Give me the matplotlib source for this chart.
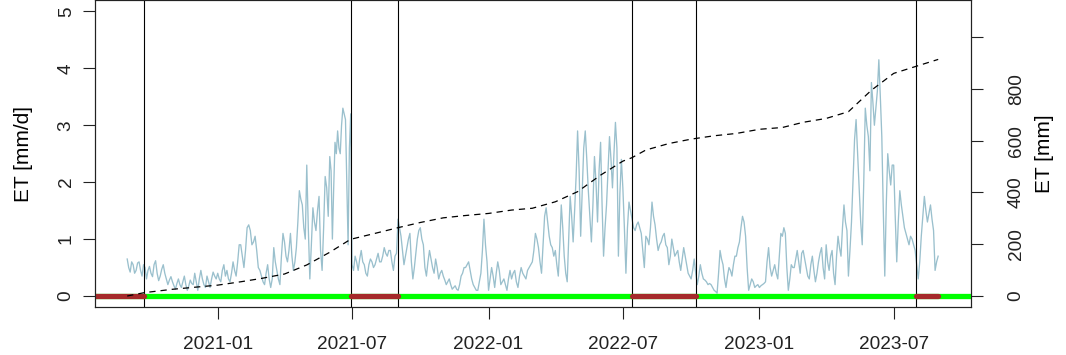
import datetime as dt

import matplotlib
matplotlib.use("Agg")
import matplotlib.pyplot as plt
import matplotlib.dates as mdates

plt.rcParams["font.family"] = ["Liberation Sans", "DejaVu Sans"]

# daily ET [mm/d] (values spread over each month)
et_2020 = [
    [0.65, 0.5, 0.42, 0.6, 0.55, 0.4, 0.45, 0.58, 0.6, 0.45, 0.35, 0.55, 0.5, 0.3, 0.45],    # Sep
    [0.52, 0.4, 0.34, 0.55, 0.62, 0.4, 0.27, 0.35, 0.47, 0.55, 0.4, 0.3, 0.2, 0.28, 0.34],   # Oct
    [0.25, 0.18, 0.12, 0.22, 0.3, 0.2, 0.15, 0.25, 0.35, 0.2, 0.1, 0.18, 0.28, 0.22, 0.2],   # Nov
    [0.4, 0.25, 0.1, 0.3, 0.45, 0.3, 0.2, 0.15, 0.35, 0.25, 0.15, 0.3, 0.42, 0.35, 0.3],     # Dec
]
et_2021 = [
    [0.4, 0.3, 0.25, 0.45, 0.55, 0.35, 0.45, 0.3, 0.25, 0.4, 0.6, 0.45, 0.35, 0.6, 0.9],
    [0.9, 0.7, 0.5, 0.8, 1.2, 1.25, 1.15, 0.9, 0.95, 1.05, 0.8, 0.5, 0.45],
    [0.35, 0.25, 0.2, 0.4, 0.55, 0.3, 0.15, 0.3, 0.85, 0.6, 0.45, 0.3, 0.2, 0.7, 1.1],
    [0.95, 0.7, 0.6, 0.8, 1.1, 0.7, 0.45, 0.6, 0.85, 1.3, 1.85, 1.7, 1.6, 1.2, 1.0],
    [2.3, 1.2, 0.3, 0.9, 1.55, 1.3, 1.15, 1.5, 1.75, 0.8, 0.45, 1.2, 2.1, 1.9, 1.4],
    [2.45, 2.2, 1.0, 1.9, 2.7, 2.5, 2.9, 2.6, 2.5, 3.0, 3.3, 3.2, 3.1, 2.0, 0.9, 2.6, 3.2],
    [0.55, 0.45, 0.7, 0.6, 0.45, 0.65, 0.8, 0.6, 0.55, 0.4, 0.35, 0.55, 0.65, 0.6, 0.5],
    [0.55, 0.65, 0.75, 0.6, 0.6, 0.7, 0.85, 0.75, 0.7, 0.8, 0.8, 0.6, 0.45, 0.7, 0.75],
    [1.35, 1.2, 1.05, 0.8, 0.55, 0.7, 0.85, 1.0, 1.1, 0.6, 0.3, 0.5, 0.75, 1.0, 1.15],
    [1.2, 1.0, 0.9, 0.5, 0.35, 0.6, 0.8, 0.65, 0.5, 0.4, 0.65, 0.5, 0.3, 0.4, 0.45],
    [0.35, 0.28, 0.2, 0.25, 0.3, 0.2, 0.12, 0.15, 0.18, 0.12, 0.1, 0.2, 0.35, 0.4, 0.5],
    [0.5, 0.55, 0.6, 0.45, 0.3, 0.2, 0.15, 0.1, 0.1, 0.25, 0.4, 0.8, 1.35, 0.9, 0.6],
]
et_2022 = [
    [0.1, 0.3, 0.5, 0.35, 0.15, 0.4, 0.6, 0.45, 0.2, 0.25, 0.3, 0.2, 0.1, 0.3, 0.45],
    [0.3, 0.4, 0.45, 0.25, 0.15, 0.35, 0.5, 0.4, 0.35, 0.3, 0.45, 0.5, 0.55],
    [0.6, 0.8, 1.1, 1.0, 0.85, 0.6, 0.4, 0.9, 1.4, 1.55, 1.3, 1.05, 0.9, 0.85, 0.7],
    [0.8, 0.55, 0.35, 0.9, 1.6, 1.2, 0.7, 0.4, 0.25, 1.0, 1.75, 1.4, 0.95, 1.5, 2.1],
    [2.9, 2.2, 1.05, 1.8, 2.6, 2.9, 2.4, 1.85, 1.4, 0.95, 1.6, 2.45, 2.0, 1.3, 2.2],
    [2.7, 1.6, 0.7, 1.2, 1.6, 2.2, 2.8, 2.4, 1.9, 2.5, 3.05, 2.6, 0.7, 1.8, 2.4],
    [1.9, 1.2, 0.4, 1.2, 1.65, 1.5, 1.35, 1.2, 1.15, 1.25, 1.3, 1.2, 1.1, 0.8, 0.5],
    [1.05, 1.0, 0.9, 1.2, 1.65, 1.4, 1.25, 1.0, 0.8, 0.9, 0.95, 1.05, 1.1, 0.9, 0.85],
    [0.55, 0.7, 1.0, 0.85, 0.7, 0.75, 0.8, 0.6, 0.45, 0.65, 0.85, 0.7, 0.55, 0.4, 0.35],
    [0.3, 0.45, 0.65, 0.4, 0.2, 0.35, 0.55, 0.4, 0.3, 0.28, 0.25, 0.2, 0.22, 0.2, 0.15],
    [0.1, 0.08, 0.05, 0.4, 0.8, 0.65, 0.55, 0.3, 0.15, 0.35, 0.5, 0.45, 0.35, 0.55, 0.7],
    [0.7, 0.85, 0.95, 1.2, 1.4, 1.3, 1.05, 0.5, 0.1, 0.2, 0.3, 0.25, 0.15, 0.18, 0.2],
]
et_2023 = [
    [0.15, 0.18, 0.2, 0.22, 0.25, 0.6, 0.85, 0.5, 0.35, 0.45, 0.55, 0.4, 0.3, 0.7, 1.1],
    [1.05, 1.2, 1.1, 0.5, 0.1, 0.3, 0.55, 0.5, 0.5, 0.65, 0.8, 0.6, 0.4, 0.75],
    [0.8, 0.65, 0.5, 0.35, 0.3, 0.55, 0.7, 0.45, 0.25, 0.4, 0.6, 0.75, 0.85, 0.5, 0.3],
    [0.9, 0.6, 0.45, 0.7, 0.8, 0.4, 0.2, 0.7, 1.05, 0.85, 0.7, 1.2, 1.6, 1.3, 1.15],
    [0.35, 0.8, 1.3, 2.0, 2.75, 3.1, 2.5, 1.9, 1.3, 0.9, 2.0, 3.3, 3.0, 2.8, 2.2],
    [3.75, 3.4, 3.0, 3.3, 3.6, 4.15, 3.5, 2.8, 1.5, 0.35, 1.6, 2.5, 2.2, 1.95, 2.3],
    [2.3, 1.4, 0.6, 1.3, 1.85, 1.6, 1.4, 1.2, 1.1, 1.0, 0.9, 1.05, 1.0, 0.9, 0.8],
    [0.55, 0.3, 0.6, 1.05, 1.4, 1.75, 1.5, 1.3, 1.45, 1.6, 1.35, 1.15, 0.45, 0.6, 0.7],
]
first_month = {2020: 9, 2021: 1, 2022: 1, 2023: 1}

# cumulative ET [mm]
cum_dates = ["2020-09-01", "2020-09-24", "2020-11-01", "2021-01-01", "2021-02-01",
             "2021-03-01", "2021-04-01", "2021-05-01", "2021-06-01", "2021-06-29",
             "2021-08-01", "2021-09-01", "2021-10-01", "2021-11-01", "2021-12-01",
             "2022-01-01", "2022-02-01", "2022-03-01", "2022-04-01", "2022-05-01",
             "2022-06-01", "2022-07-01", "2022-07-13", "2022-08-01", "2022-09-01",
             "2022-10-01", "2022-11-01", "2022-12-01", "2023-01-01", "2023-02-01",
             "2023-03-01", "2023-04-01", "2023-05-01", "2023-06-01", "2023-07-01",
             "2023-08-01", "2023-08-30"]
cum_mm = [0, 13, 26, 42, 55, 68, 85, 120, 169, 219,
          242, 264, 284, 302, 311, 319, 332, 339, 364, 403,
          467, 521, 534, 564, 589, 606, 619, 628, 644, 651,
          671, 686, 712, 795, 860, 888, 914]

# season boundaries and off-season periods
boundaries = ["2020-09-24", "2021-06-29", "2021-09-01", "2022-07-13", "2022-10-08", "2023-07-31"]
offseason = [("2020-07-01", "2020-09-24"), ("2021-06-29", "2021-09-01"),
             ("2022-07-13", "2022-10-08"), ("2023-07-31", "2023-08-30")]
season_span = ("2020-06-01", "2023-12-31")

x_tick_labels = ["2021-01", "2021-07", "2022-01", "2022-07", "2023-01", "2023-07"]
left_ticks = [0, 1, 2, 3, 4, 5]
right_ticks = [0, 200, 400, 600, 800, 1000]
right_tick_labels = ["0", "200", "400", "600", "800", ""]


def d(s):
    return dt.datetime.strptime(s, "%Y-%m-%d")


# spread each month's values over its days
et_dates = []
et_values = []
for year, months in [(2020, et_2020), (2021, et_2021), (2022, et_2022), (2023, et_2023)]:
    for k, vals in enumerate(months):
        m = first_month[year] + k
        start = dt.datetime(year, m, 1)
        end = dt.datetime(year + (m == 12), m % 12 + 1, 1)
        ndays = (end - start).days
        for i, v in enumerate(vals):
            et_dates.append(start + dt.timedelta(days=ndays * i / len(vals)))
            et_values.append(v)

fig = plt.figure(figsize=(10.66, 3.55), dpi=100)
ax = fig.add_axes([95 / 1066, (355 - 307.4) / 355, 875.7 / 1066, 307.4 / 355])

ax.plot(et_dates, et_values, color="#9AC0CD", lw=0.95, zorder=2)

for b in boundaries:
    ax.axvline(d(b), color="black", lw=0.8, zorder=3)

ax.plot([d(season_span[0]), d(season_span[1])], [0, 0], color="#00FF00",
        lw=3.8, solid_capstyle="butt", zorder=4)
for s, e in offseason:
    ax.plot([d(s), d(e)], [0, 0], color="#A52A2A", lw=3.8,
            solid_capstyle="round", zorder=5)

x0 = mdates.date2num(d("2021-01-01"))
ax.set_xlim(x0 - 165.4, x0 + 1014.8)
ax.set_ylim(-0.2, 5.2)
ax.set_xticks([d(t + "-01") for t in x_tick_labels])
ax.set_xticklabels(x_tick_labels)
ax.set_yticks(left_ticks)
ax.set_ylabel("ET [mm/d]", fontsize=15)
ax.yaxis.set_label_coords(-0.071, 0.5)

# cumulative on the second axis
ax2 = ax.twinx()
ax2.plot([d(s) for s in cum_dates], cum_mm, color="black", lw=0.9,
         linestyle=(0, (5, 4)))
ax2.set_ylim(-0.2 * 219.9, 5.2 * 219.9)
ax2.set_yticks(right_ticks)
ax2.set_yticklabels(right_tick_labels)
ax2.set_ylabel("ET [mm]", fontsize=15)
ax2.yaxis.set_label_coords(1.0734, 0.5)

for a in (ax, ax2):
    for sp in a.spines.values():
        sp.set_color("#222222")
        sp.set_linewidth(0.8)
    a.tick_params(direction="out", length=8.6, width=0.8, labelsize=13.7,
                  colors="#222222")
ax.tick_params(axis="x", pad=12)
ax.tick_params(axis="y", labelrotation=90, pad=6)
ax2.tick_params(axis="y", labelrotation=90, pad=18)
for lab in ax.get_yticklabels() + ax2.get_yticklabels():
    lab.set_verticalalignment("center")

fig.savefig("out.png", dpi=100)
